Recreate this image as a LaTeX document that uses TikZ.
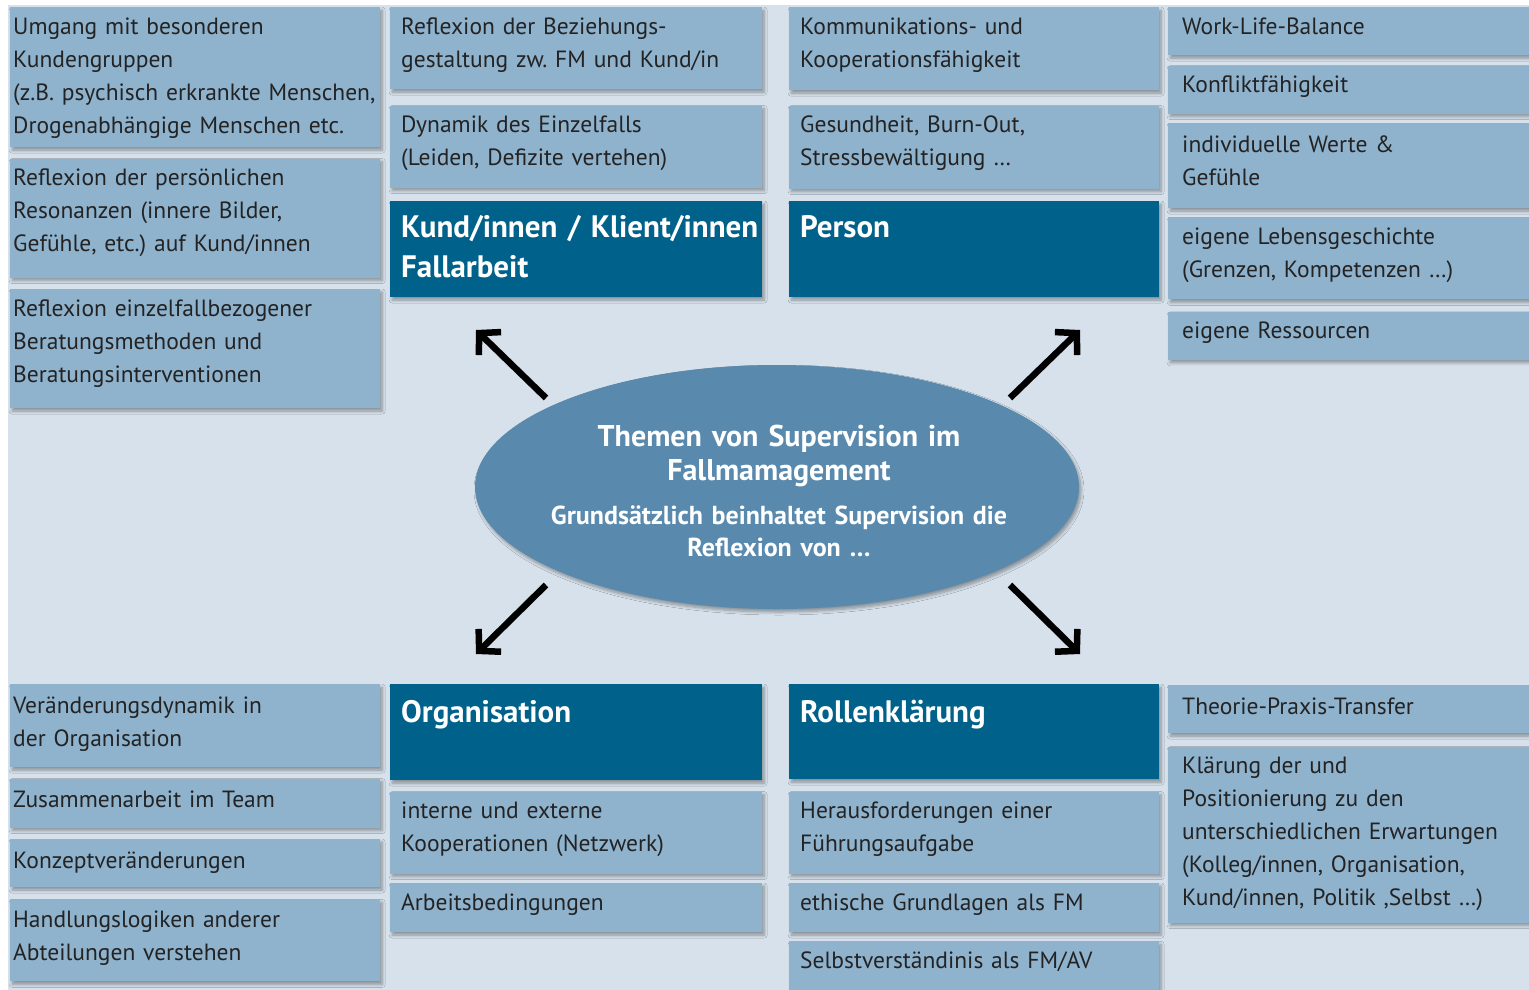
\documentclass[tikz,border=0pt]{standalone}
\usepackage{fontspec}
\setmainfont{PT Sans}
\frenchspacing
\usetikzlibrary{arrows.meta, positioning, shapes.geometric, shadows.blur}
\definecolor{grund}{RGB}{214,225,235}
\definecolor{hell}{RGB}{143,178,205}
\definecolor{dunkel}{RGB}{0,98,138}
\definecolor{mitte}{RGB}{89,137,173}
\definecolor{schrift}{RGB}{35,35,35}
\tikzset{
  schatten/.style={blur shadow={shadow xshift=2pt, shadow yshift=-3pt, shadow blur radius=3pt, shadow blur steps=6, shadow opacity=35}},
  feld/.style 2 args={rectangle, fill=hell, inner sep=0pt, minimum width=#1, minimum height=#2, schatten},
  kopf/.style 2 args={rectangle, fill=dunkel, inner sep=0pt, minimum width=#1, minimum height=#2, schatten},
  feldtext/.style={anchor=north west, inner sep=0pt, text width=420pt, align=left, text=schrift, font=\fontsize{23.5}{33}\selectfont, execute at begin node={\noindent\strut}},
  kopftext/.style={anchor=north west, inner sep=0pt, text width=420pt, align=left, text=white, font=\fontsize{31}{40}\selectfont\bfseries, execute at begin node={\noindent\strut}},
  pfeil/.style={line width=6.5pt, -{Straight Barb[length=15pt, width=32pt]}}
}

\begin{document}
\begin{tikzpicture}[x=1pt, y=-1pt]
\useasboundingbox (0,0) rectangle (1529,990);
\fill[white] (0,0) rectangle (1529,990);
\fill[grund] (8,5) rectangle (1529,990);

% Kund/innen / Klient/innen
\node[feld={370pt}{140pt}, anchor=north west] (a1) at (10,7) {};
\node[feld={370pt}{119pt}, below=11pt of a1] (a2) {};
\node[feld={370pt}{119pt}, below=11pt of a2] (a3) {};
\node[feld={372pt}{82pt}, anchor=north west] (b1) at (390,7) {};
\node[feld={372pt}{82pt}, below=16pt of b1] (b2) {};
\node[kopf={372pt}{96pt}, below=13pt of b2] (b3) {};
\node[feldtext] at ([shift={(3,4)}]a1.north west) {Umgang mit besonderen\\Kundengruppen\\(z.B. psychisch erkrankte Menschen,\\Drogenabhängige Menschen etc.};
\node[feldtext] at ([shift={(3,4)}]a2.north west) {Reflexion der persönlichen\\Resonanzen (innere Bilder,\\Gefühle, etc.) auf Kund/innen};
\node[feldtext] at ([shift={(3,4)}]a3.north west) {Reflexion einzelfallbezogener\\Beratungsmethoden und\\Beratungsinterventionen};
\node[feldtext] at ([shift={(11,4)}]b1.north west) {Reflexion der Beziehungs-\\gestaltung zw. FM und Kund/in};
\node[feldtext] at ([shift={(11,4)}]b2.north west) {Dynamik des Einzelfalls\\(Leiden, Defizite vertehen)};
\node[kopftext] at ([shift={(11,8)}]b3.north west) {Kund/innen / Klient/innen\\Fallarbeit};

% Person
\node[feld={370pt}{83pt}, anchor=north west] (c1) at (789,7) {};
\node[feld={370pt}{83pt}, below=15pt of c1] (c2) {};
\node[kopf={370pt}{96pt}, below=12pt of c2] (c3) {};
\node[feld={361pt}{48pt}, anchor=north west] (d1) at (1168,7) {};
\node[feld={361pt}{48pt}, below=10pt of d1] (d2) {};
\node[feld={361pt}{85pt}, below=9pt of d2] (d3) {};
\node[feld={361pt}{82pt}, below=9pt of d3] (d4) {};
\node[feld={361pt}{48pt}, below=12pt of d4] (d5) {};
\node[feldtext] at ([shift={(11,4)}]c1.north west) {Kommunikations- und\\Kooperationsfähigkeit};
\node[feldtext] at ([shift={(11,4)}]c2.north west) {Gesundheit, Burn-Out,\\Stressbewältigung …};
\node[kopftext] at ([shift={(11,8)}]c3.north west) {Person};
\node[feldtext] at ([shift={(14,4)}]d1.north west) {Work-Life-Balance};
\node[feldtext] at ([shift={(14,4)}]d2.north west) {Konfliktfähigkeit};
\node[feldtext] at ([shift={(14,6)}]d3.north west) {individuelle Werte \&\\Gefühle};
\node[feldtext] at ([shift={(14,4)}]d4.north west) {eigene Lebensgeschichte\\(Grenzen, Kompetenzen …)};
\node[feldtext] at ([shift={(14,4)}]d5.north west) {eigene Ressourcen};

% Organisation
\node[feld={370pt}{83pt}, anchor=north west] (e1) at (10,684) {};
\node[feld={370pt}{49pt}, below=11pt of e1] (e2) {};
\node[feld={370pt}{48pt}, below=11pt of e2] (e3) {};
\node[feld={370pt}{82pt}, below=12pt of e3] (e4) {};
\node[kopf={372pt}{96pt}, anchor=north west] (f1) at (390,684) {};
\node[feld={372pt}{82pt}, below=11pt of f1] (f2) {};
\node[feld={372pt}{49pt}, below=9pt of f2] (f3) {};
\node[feldtext] at ([shift={(3,6)}]e1.north west) {Veränderungsdynamik in\\der Organisation};
\node[feldtext] at ([shift={(3,6)}]e2.north west) {Zusammenarbeit im Team};
\node[feldtext] at ([shift={(3,6)}]e3.north west) {Konzeptveränderungen};
\node[feldtext] at ([shift={(3,5)}]e4.north west) {Handlungslogiken anderer\\Abteilungen verstehen};
\node[kopftext] at ([shift={(11,10)}]f1.north west) {Organisation};
\node[feldtext] at ([shift={(11,4)}]f2.north west) {interne und externe\\Kooperationen (Netzwerk)};
\node[feldtext] at ([shift={(11,4)}]f3.north west) {Arbeitsbedingungen};

% Rollenklaerung
\node[kopf={370pt}{95pt}, anchor=north west] (g1) at (789,684) {};
\node[feld={370pt}{82pt}, below=12pt of g1] (g2) {};
\node[feld={370pt}{49pt}, below=9pt of g2] (g3) {};
\node[feld={370pt}{55pt}, below=9pt of g3] (g4) {};
\node[feld={361pt}{48pt}, anchor=north west] (h1) at (1168,685) {};
\node[feld={361pt}{176pt}, below=13pt of h1] (h2) {};
\node[kopftext] at ([shift={(11,10)}]g1.north west) {Rollenklärung};
\node[feldtext] at ([shift={(11,4)}]g2.north west) {Herausforderungen einer\\Führungsaufgabe};
\node[feldtext] at ([shift={(11,4)}]g3.north west) {ethische Grundlagen als FM};
\node[feldtext] at ([shift={(11,4)}]g4.north west) {Selbstverständinis als FM/AV};
\node[feldtext] at ([shift={(14,6)}]h1.north west) {Theorie-Praxis-Transfer};
\node[feldtext] at ([shift={(14,4)}]h2.north west) {Klärung der und\\Positionierung zu den\\unterschiedlichen Erwartungen\\(Kolleg/innen, Organisation,\\Kund/innen, Politik ,Selbst …)};

% Mitte
\node[ellipse, fill=mitte, inner sep=0pt, minimum width=604pt, minimum height=244pt, schatten] (zentrum) at (777,487) {};
\node[anchor=north, inner sep=0pt, text width=560pt, align=center, text=white, font=\fontsize{30}{34}\selectfont\bfseries, execute at begin node={\noindent\strut}] (titel) at (779,422) {Themen von Supervision im\\Fallmamagement};
\node[anchor=north, inner sep=0pt, text width=560pt, align=center, text=white, font=\fontsize{26}{32}\selectfont\bfseries, execute at begin node={\noindent\strut}] (untertitel) at (779,502) {Grundsätzlich beinhaltet Supervision die\\Reflexion von …};

\coordinate (nw1) at (546,398);
\coordinate (nw2) at (476,330);
\coordinate (no1) at (1010,398);
\coordinate (no2) at (1080,330);
\coordinate (sw1) at (546,585);
\coordinate (sw2) at (476,654);
\coordinate (so1) at (1010,585);
\coordinate (so2) at (1080,654);
\draw[pfeil] (nw1) -- (nw2);
\draw[pfeil] (no1) -- (no2);
\draw[pfeil] (sw1) -- (sw2);
\draw[pfeil] (so1) -- (so2);
\end{tikzpicture}
\end{document}
